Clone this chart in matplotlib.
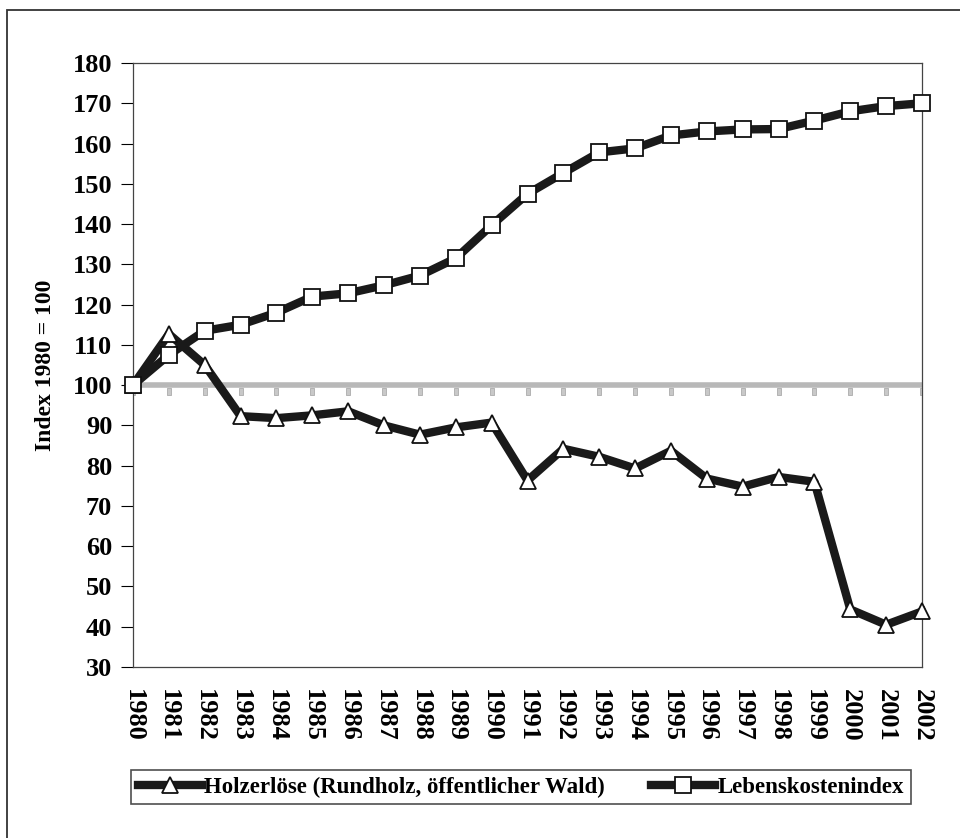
import matplotlib.pyplot as plt
from matplotlib.patches import Rectangle
from matplotlib.path import Path

# ── Data ──────────────────────────────────────────────────────────────────────
YEARS = list(range(1980, 2003))

HOLZ = [100, 112.7, 105, 92.3, 91.8, 92.5, 93.5, 90, 87.7, 89.5, 90.7,
        76.3, 84.2, 82.2, 79.3, 83.7, 76.8, 74.8, 77.2, 76, 44.3, 40.5, 43.8]

LEBEN = [100, 107.5, 113.5, 115, 118, 122, 122.8, 124.8, 127.2, 131.5, 139.7,
         147.5, 152.7, 157.8, 158.8, 162, 163, 163.5, 163.6, 165.7, 168, 169.3, 170]

BASE = [100] * len(YEARS)

LABEL_HOLZ = "Holzerlöse (Rundholz, öffentlicher Wald)"
LABEL_LEBEN = "Lebenskostenindex"
YLABEL = "Index 1980 = 100"

# ── Style ─────────────────────────────────────────────────────────────────────
plt.rcParams["font.family"] = ["Liberation Serif", "DejaVu Serif"]
plt.rcParams["font.weight"] = "bold"

W, H = 960, 838
fig = plt.figure(figsize=(W / 100, H / 100), dpi=100)
ax = fig.add_axes([133 / W, 1 - 667 / H, (922 - 133) / W, (667 - 63) / H])

# outer frame (left and top edges visible)
fig.patches.append(Rectangle((7 / W, -0.1), 1.2, 1 - 10 / H + 0.1,
                             transform=fig.transFigure, fill=False,
                             edgecolor="#333333", linewidth=1.3))

# baseline at 100 with small tick-like markers below
tick_mark = Path([(-0.25, -1.0), (0.25, -1.0), (0.25, -0.35), (-0.25, -0.35), (-0.25, -1.0)],
                 [Path.MOVETO, Path.LINETO, Path.LINETO, Path.LINETO, Path.CLOSEPOLY])
ax.plot(YEARS, BASE, color="#b8b8b8", linewidth=4, zorder=2,
        marker=tick_mark, markersize=14, markerfacecolor="#c8c8c8",
        markeredgecolor="#a0a0a0", markeredgewidth=0.5)

ax.plot(YEARS, HOLZ, color="#1a1a1a", linewidth=6, marker="^",
        markersize=11, markerfacecolor="white", markeredgecolor="#111111",
        markeredgewidth=1.3, label=LABEL_HOLZ, zorder=3, clip_on=False)
ax.plot(YEARS, LEBEN, color="#1a1a1a", linewidth=6, marker="s",
        markersize=11, markerfacecolor="white", markeredgecolor="#111111",
        markeredgewidth=1.3, label=LABEL_LEBEN, zorder=4, clip_on=False)

ax.set_xlim(1980, 2002)
ax.set_ylim(30, 180)
ax.set_yticks(range(30, 181, 10))
ax.set_xticks(YEARS)
ax.set_xticklabels([str(y) for y in YEARS], rotation=-90, fontsize=19,
                   fontweight="bold")
ax.tick_params(axis="y", labelsize=19, direction="out", length=9, width=0.8,
               pad=6)
ax.tick_params(axis="x", length=0, pad=16)
for lab in ax.get_yticklabels():
    lab.set_fontweight("bold")
for sp in ax.spines.values():
    sp.set_linewidth(0.9)
    sp.set_color("#444444")

ax.set_ylabel(YLABEL, fontsize=17, fontweight="bold")
ax.yaxis.set_label_coords(-0.097, 0.5)

leg = fig.legend(loc="center", bbox_to_anchor=(521 / W, 1 - 787 / H),
                 ncol=2, frameon=True, fancybox=False,
                 handlelength=2.8, handletextpad=0.1, columnspacing=2.0,
                 borderpad=0.3, prop={"weight": "bold", "size": 16.5})
leg.get_frame().set_edgecolor("#222222")
leg.get_frame().set_linewidth(1.2)

fig.savefig("out.png", dpi=100)
